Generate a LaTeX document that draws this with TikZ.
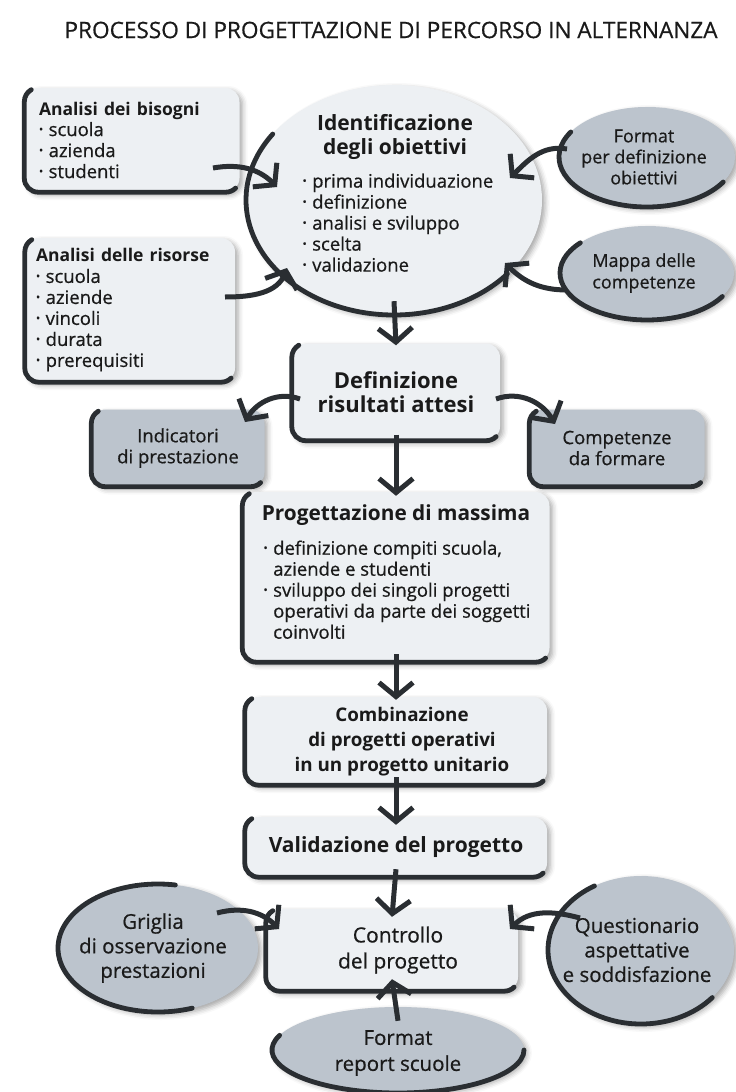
\documentclass[tikz,border=0pt]{standalone}
\usepackage{fontspec}
\setmainfont{Open Sans}
% slightly heavier regular face for the body text
\newfontfamily\plain{Open Sans}[FakeBold=0.6]
\usetikzlibrary{arrows.meta,shapes.geometric,shadows.blur}

\definecolor{lightfill}{HTML}{EDF0F3}
\definecolor{greyfill}{HTML}{BCC4CD}
\definecolor{ink}{HTML}{2A2E32}
\definecolor{txt}{HTML}{1A1A1A}

% small bullet used in the lists
\newcommand\bul{\raisebox{0.16em}{\fontsize{11}{11}\selectfont\textbullet}\hspace{0.3em}}
% bold heading inside a list
\newcommand\listhead[1]{{\normalfont\bfseries\fontsize{17.5}{21}\selectfont #1}}
% dark brush-like rim along the left and bottom side of a rounded card
\newcommand\cardrim[1]{%
  \draw[rim] ([shift={(7pt,-1.88pt)}]#1.north west) arc[start angle=120,end angle=180,radius=14pt]
    -- ([yshift=14pt]#1.south west) arc[start angle=180,end angle=270,radius=14pt]
    -- ([xshift=-14pt]#1.south east) arc[start angle=270,end angle=315,radius=14pt];}
% same rim for an oval: name, x radius, y radius, start angle, end angle
\newcommand\ovalrim[5]{%
  \draw[rim] (#1.center) ++(#4:#2pt and #3pt) arc[start angle=#4,end angle=#5,x radius=#2pt,y radius=#3pt];}

\begin{document}
\begin{tikzpicture}[x=1pt,y=1pt,
  every node/.style={text=txt},
  base/.style={font=\plain\fontsize{18.5}{21}\selectfont},
  head/.style={font=\bfseries\fontsize{21}{24}\selectfont},
  soft/.style={blur shadow={shadow xshift=3pt,shadow yshift=-3pt,shadow blur radius=5pt,shadow opacity=35}},
  card/.style={rectangle,rounded corners=14pt,fill=lightfill,inner sep=0pt,soft},
  greycard/.style={card,fill=greyfill},
  oval/.style={ellipse,fill=lightfill,inner sep=0pt,soft},
  greyoval/.style={oval,fill=greyfill},
  rim/.style={draw=ink,line width=4.8pt,line cap=round},
  flow/.style={draw=ink,line width=5pt,-{Straight Barb[length=14pt,width=34pt]}},
]
\useasboundingbox (0,0) rectangle (736,-1092);

% title
\node[font=\plain\fontsize{22.6}{26}\selectfont] (title) at (391,-30) {PROCESSO DI PROGETTAZIONE DI PERCORSO IN ALTERNANZA};

% upper block
\node[card,base,minimum width=215pt,minimum height=104pt,text width=186pt,align=left] (A) at (132,-140)
  {\listhead{Analisi dei bisogni}\\\bul scuola\\\bul azienda\\\bul studenti};
\node[card,base,minimum width=210pt,minimum height=144pt,text width=188pt,align=left] (B) at (130,-310)
  {\listhead{Analisi delle risorse}\\\bul scuola\\\bul aziende\\\bul vincoli\\\bul durata\\\bul prerequisiti};

\node[oval,minimum width=296pt,minimum height=230pt] (I) at (394,-200) {};
\node[greyoval,minimum width=176pt,minimum height=100pt] (F1) at (647,-157) {};
\node[greyoval,minimum width=174pt,minimum height=94pt] (F2) at (647,-273) {};

% middle block
\node[card,font=\bfseries\fontsize{22}{24}\selectfont,minimum width=208pt,minimum height=97pt,align=center] (D) at (396,-392) {Definizione\\risultati attesi};
\node[greycard,base,minimum width=173pt,minimum height=77pt,align=center] (Ind) at (178,-448) {Indicatori\\di prestazione};
\node[greycard,base,minimum width=175pt,minimum height=77pt,align=center] (Comp) at (617,-448) {Competenze\\da formare};

\node[card,minimum width=307pt,minimum height=170pt] (P) at (396,-577) {};
\node[card,minimum width=302pt,minimum height=88pt] (C) at (396,-741) {};
\node[card,head,minimum width=302pt,minimum height=60pt] (V) at (396,-847) {Validazione del progetto};

% lower block
\node[greyoval,minimum width=200pt,minimum height=128pt] (G) at (158,-948) {};
\node[greyoval,minimum width=186pt,minimum height=148pt] (Q) at (641,-950) {};
\node[greyoval,minimum width=252pt,minimum height=86pt] (Fr) at (398,-1050) {};
\node[card,minimum width=252pt,minimum height=82pt] (K) at (392,-950) {};

% rims
\cardrim{A}\cardrim{B}\cardrim{D}\cardrim{Ind}\cardrim{Comp}
\cardrim{P}\cardrim{C}\cardrim{V}\cardrim{K}
\ovalrim{I}{148}{115}{145}{320}
\ovalrim{F1}{88}{50}{150}{330}
\ovalrim{F2}{87}{47}{140}{330}
\ovalrim{G}{100}{64}{80}{290}
\ovalrim{Q}{93}{74}{120}{320}
\ovalrim{Fr}{126}{43}{160}{360}

% texts on the ovals and on the larger cards
\node[head,align=center] (Ihead) at ([shift={(1,63)}]I.center) {Identificazione\\degli obiettivi};
\node[base,align=left,anchor=north west] (Ilist) at ([shift={(-95,30)}]I.center)
  {\bul prima individuazione\\\bul definizione\\\bul analisi e sviluppo\\\bul scelta\\\bul validazione};
\node[font=\plain\fontsize{18}{21}\selectfont,align=center] (F1t) at ([xshift=-3]F1.center) {Format\\per definizione\\obiettivi};
\node[font=\plain\fontsize{18}{21.5}\selectfont,align=center] (F2t) at ([xshift=-3]F2.center) {Mappa delle\\competenze};
\node[font=\bfseries\fontsize{20.8}{24}\selectfont] (Phead) at ([shift={(0,62)}]P.center) {Progettazione di massima};
\node[base,align=left,anchor=north west] (Plist) at ([shift={(-136,40)}]P.center)
  {\bul definizione compiti scuola,\\\hphantom{\bul}aziende e studenti\\\bul sviluppo dei singoli progetti\\\hphantom{\bul}operativi da parte dei soggetti\\\hphantom{\bul}coinvolti};
\node[font=\bfseries\fontsize{18.8}{25}\selectfont,align=center] (Ct) at ([shift={(6,-1)}]C.center)
  {Combinazione\\di progetti operativi\\in un progetto unitario};
\node[font=\plain\fontsize{21}{26}\selectfont,align=center] (Kt) at ([shift={(6,0)}]K.center) {Controllo\\del progetto};
\node[font=\plain\fontsize{20.5}{24.5}\selectfont,align=center] (Gt) at ([xshift=-5]G.center) {Griglia\\di osservazione\\prestazioni};
\node[font=\plain\fontsize{20.5}{24.5}\selectfont,align=center] (Qt) at ([xshift=-4]Q.center) {Questionario\\aspettative\\e soddisfazione};
\node[font=\plain\fontsize{20.5}{26}\selectfont,align=center] (Frt) at ([yshift=-3]Fr.center) {Format\\report scuole};

% connectors
\draw[flow] ([shift={(81,-28)}]A.center) to[out=10,in=135] ([shift={(-117,13)}]I.center);
\draw[flow] ([shift={(95,13)}]B.center) to[out=0,in=250] ([shift={(-107,-68)}]I.center);
\draw[flow] ([shift={(-80,8)}]F1.center) to[out=170,in=45] ([shift={(116,22)}]I.center);
\draw[flow] ([shift={(-80,-17)}]F2.center) to[out=180,in=-45] ([shift={(111,-63)}]I.center);
\draw[flow] ([yshift=14]I.south) -- ([yshift=-2]D.north);
\draw[flow] ([shift={(-96,-7)}]D.center) to[out=160,in=60] ([shift={(67,26)}]Ind.center);
\draw[flow] ([shift={(100,-7)}]D.center) to[out=20,in=120] ([shift={(-62,24)}]Comp.center);
\draw[flow] ([yshift=6]D.south) -- ([yshift=-4]P.north);
\draw[flow] ([yshift=8]P.south) -- ([yshift=-3]C.north);
\draw[flow] ([yshift=8]C.south) -- ([yshift=-8]V.north);
\draw[flow] ([yshift=8]V.south) -- ([yshift=-8]K.north);
\draw[flow] ([shift={(59,35)}]G.center) to[out=15,in=135] ([shift={(-113,21)}]K.center);
\draw[flow] ([shift={(-61,32)}]Q.center) to[out=165,in=45] ([shift={(118,21)}]K.center);
\draw[flow] ([yshift=-14]Fr.north) -- ([yshift=12]K.south);
\end{tikzpicture}
\end{document}
